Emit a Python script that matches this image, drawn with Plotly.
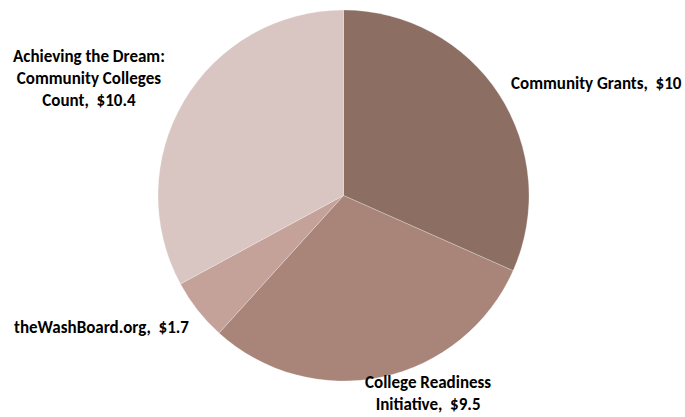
import plotly.graph_objects as go

categories = ["Community Grants", "College Readiness Initiative", "theWashBoard.org",
              "Achieving the Dream: Community Colleges Count"]
values = [10, 9.5, 1.7, 10.4]
label_texts = ["Community Grants,  $10",
               "College Readiness<br>Initiative,  $9.5",
               "theWashBoard.org,  $1.7",
               "Achieving the Dream:<br>Community Colleges<br>Count,  $10.4"]
colors = ["#8C6E63", "#A88479", "#C4A199", "#D9C6C2"]

W, H = 685, 417
cx, cy, r = 343.5, 195.5, 185.5

fig = go.Figure(go.Pie(
    labels=categories, values=values, sort=False, direction="clockwise", rotation=0,
    marker=dict(colors=colors, line=dict(color="rgba(255,255,255,0.5)", width=0.5)),
    textinfo="none", hoverinfo="label+value", showlegend=False,
    domain=dict(x=[(cx - r) / W, (cx + r) / W], y=[(H - cy - r) / H, (H - cy + r) / H]),
))

font = dict(family="Carlito, Liberation Sans Narrow, Liberation Sans, Arial", size=17, color="#000000")
# label placement in page pixels: (x, y, xanchor, yanchor)
label_pos = [(684, 84, "right", "middle"), (428, 417, "center", "bottom"),
             (12, 327, "left", "middle"), (89, 79, "center", "middle")]
for txt, (x, y, xa, ya) in zip(label_texts, label_pos):
    fig.add_annotation(x=x / W, y=1 - y / H, xref="paper", yref="paper",
                       text="<b>" + txt + "</b>", showarrow=False, xanchor=xa,
                       yanchor=ya, align="center", font=font)

fig.update_layout(width=W, height=H, margin=dict(l=0, r=0, t=0, b=0),
                  paper_bgcolor="white", plot_bgcolor="white")
fig.write_html("out.html", config={"displayModeBar": False},
               post_script="document.body.style.margin='0';document.body.style.overflow='hidden';")
